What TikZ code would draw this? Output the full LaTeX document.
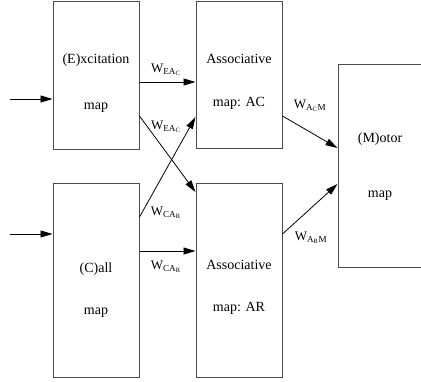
\documentclass[tikz,border=0pt]{standalone}
\usepackage{fontspec}
\setmainfont{Liberation Serif}
\usetikzlibrary{arrows.meta,positioning}

\begin{document}
\begin{tikzpicture}[
  x=1pt, y=-1pt,
  map/.style={draw=black!70, line width=1pt, minimum width=86pt,
    align=center, font=\fontsize{14}{17}\selectfont, inner sep=0pt},
  wire/.style={-{Triangle[length=12pt,width=7pt]}, line width=0.8pt},
  wlab/.style={font=\fontsize{13}{15}\selectfont, inner sep=0pt}
]
  \useasboundingbox (0,0) rectangle (421,382);

  % Maps
  \node[map, minimum height=148pt] (E) at (96,76) {\rule{0pt}{24pt}(E)xcitation\\[29pt]map};
  \node[map, minimum height=194pt] (C) at (96,281) {\rule{0pt}{27pt}(C)all\\[25pt]map};
  \node[map, minimum height=147pt] (AC) at (239,75.5) {\rule{0pt}{22pt}Associative\\[26pt]map: AC};
  \node[map, minimum height=194pt] (AR) at (239,281) {\rule{0pt}{22pt}Associative\\[25pt]map: AR};
  \node[map, minimum width=84pt, minimum height=203pt] (M) at (380,166.5) {(M)otor\\[38pt]map};

  % Inputs
  \coordinate (inE) at (10,99);
  \coordinate (inC) at (10,234);
  \draw[wire] (inE) -- (E.west |- inE);
  \draw[wire] (inC) -- (C.west |- inC);

  % Weights
  \draw[wire] (E.east |- 0,82) -- (AC.west |- 0,82);
  \draw[wire] (E.east |- 0,116) -- (AR.west |- 0,192);
  \draw[wire] (C.east |- 0,217) -- (AC.west |- 0,117);
  \draw[wire] (C.east |- 0,251) -- (AR.west |- 0,251);
  \draw[wire] (AC.east |- 0,116) -- (M.west |- 0,148);
  \draw[wire] (AR.east |- 0,234) -- (M.west |- 0,184);

  % Labels
  \node[wlab] (wEC1) at (166,70) {$\mathrm{W}_{\mathrm{EA}_{\mathrm{C}}}$};
  \node[wlab] (wEC2) at (166,127) {$\mathrm{W}_{\mathrm{EA}_{\mathrm{C}}}$};
  \node[wlab] (wCR1) at (166,213) {$\mathrm{W}_{\mathrm{CA}_{\mathrm{R}}}$};
  \node[wlab] (wCR2) at (166,267) {$\mathrm{W}_{\mathrm{CA}_{\mathrm{R}}}$};
  \node[wlab] (wCM) at (310,106) {$\mathrm{W}_{\mathrm{A}_{\mathrm{C}}\mathrm{M}}$};
  \node[wlab] (wRM) at (311,238) {$\mathrm{W}_{\mathrm{A}_{\mathrm{R}}\mathrm{M}}$};
\end{tikzpicture}
\end{document}
